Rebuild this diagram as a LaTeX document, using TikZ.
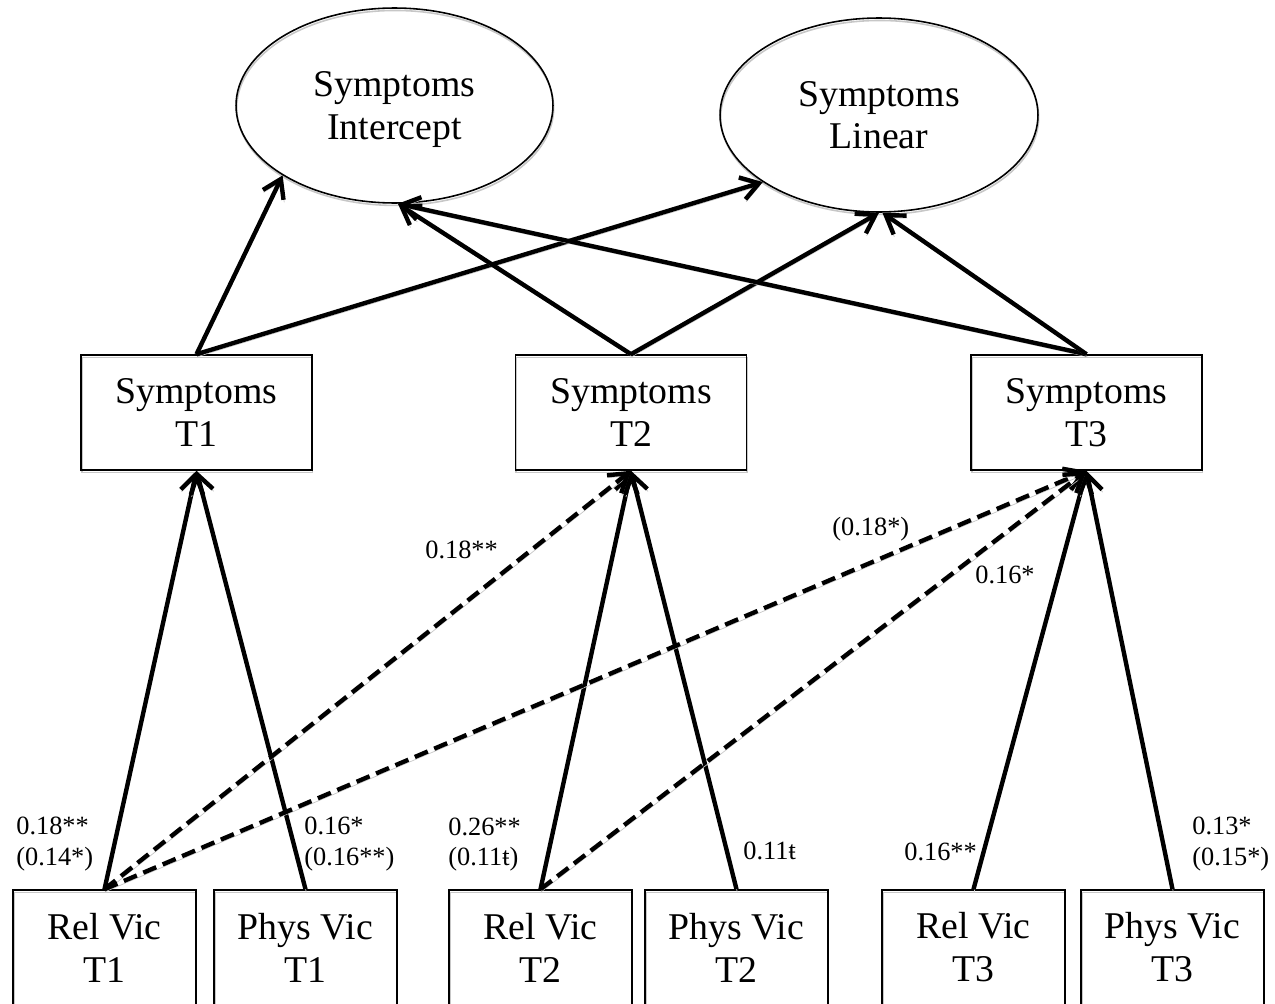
\documentclass[tikz,border=0pt]{standalone}
\usepackage{fontspec}
\setmainfont{Liberation Serif}
\usetikzlibrary{arrows.meta,shapes.geometric}
\begin{document}
\begin{tikzpicture}[x=0.02cm,y=-0.02cm,
  softshadow/.style={preaction={draw=black!22,transform canvas={xshift=0.4pt,yshift=-1.4pt}}},
  bigtext/.style={font=\fontsize{21.5}{24.4}\selectfont},
  latent/.style={draw,ellipse,line width=0.9pt,inner sep=0pt,align=center,bigtext,text depth=0pt,softshadow},
  obs/.style={draw,rectangle,line width=0.9pt,inner sep=0pt,align=center,bigtext,
              minimum width=4.62cm,minimum height=2.3cm,softshadow},
  vic/.style={obs,minimum width=3.66cm},
  path/.style={line width=2.5pt,-{Straight Barb[length=10pt,width=13pt]},softshadow},
  cross/.style={path,dash pattern=on 8pt off 4pt},
  coef/.style={anchor=base west,inner sep=0pt,font=\fontsize{15}{17.6}\selectfont}]
\useasboundingbox (0,0) rectangle (1275,1004);
\clip (0,0) rectangle (1275,1004);

% latent growth factors
\node[latent,minimum width=6.34cm,minimum height=3.9cm] (int) at (394.5,105.5) {Symptoms\\Intercept};
\node[latent,minimum width=6.36cm,minimum height=3.88cm] (lin) at (879,115) {Symptoms\\Linear};

% observed symptoms
\node[obs] (sT1) at (196.5,412.5) {Symptoms\\T1};
\node[obs] (sT2) at (631,412.5) {Symptoms\\T2};
\node[obs] (sT3) at (1086.5,412.5) {Symptoms\\T3};

% victimization predictors
\node[vic] (rT1) at (104.5,947.5) {Rel Vic\\T1};
\node[vic] (pT1) at (305.5,947.5) {Phys Vic\\T1};
\node[vic] (rT2) at (540.5,947.5) {Rel Vic\\T2};
\node[vic] (pT2) at (736.5,947.5) {Phys Vic\\T2};
\node[vic] (rT3) at (973.5,947.5) {Rel Vic\\T3};
\node[vic] (pT3) at (1172.5,947.5) {Phys Vic\\T3};

% loadings on the growth factors
\draw[path] (sT1.north) -- (int.212);
\draw[path] (sT1.north) -- (lin.210);
\draw[path] (sT2.north) -- (int.-88);
\draw[path] (sT2.north) -- (lin.-90);
\draw[path] (sT3.north) -- (int.-88);
\draw[path] (sT3.north) -- (lin.-88);

% concurrent effects
\draw[path] (rT1.north) -- (sT1.south);
\draw[path] (pT1.north) -- (sT1.south);
\draw[path] (rT2.north) -- (sT2.south);
\draw[path] (pT2.north) -- (sT2.south);
\draw[path] (rT3.north) -- (sT3.south);
\draw[path] (pT3.north) -- (sT3.south);

% lagged effects
\draw[cross] (rT1.north) -- (sT2.south);
\draw[cross] (rT1.north) -- (sT3.south);
\draw[cross] (rT2.north) -- (sT3.south);

% coefficients
\node[coef] (c1a) at (16,834) {0.18**};
\node[coef] (c1b) at (16,865) {(0.14*)};
\node[coef] (c2a) at (304,834) {0.16*};
\node[coef] (c2b) at (304,865) {(0.16**)};
\node[coef] (c3a) at (448,835) {0.26**};
\node[coef] (c3b) at (448,865) {(0.11ŧ)};
\node[coef] (c4) at (743,859) {0.11ŧ};
\node[coef] (c5) at (904,860) {0.16**};
\node[coef] (c6a) at (1192,834) {0.13*};
\node[coef] (c6b) at (1192,865) {(0.15*)};
\node[coef] (c7) at (425,558) {0.18**};
\node[coef] (c8) at (832,535) {(0.18*)};
\node[coef] (c9) at (975,583) {0.16*};
\end{tikzpicture}
\end{document}
